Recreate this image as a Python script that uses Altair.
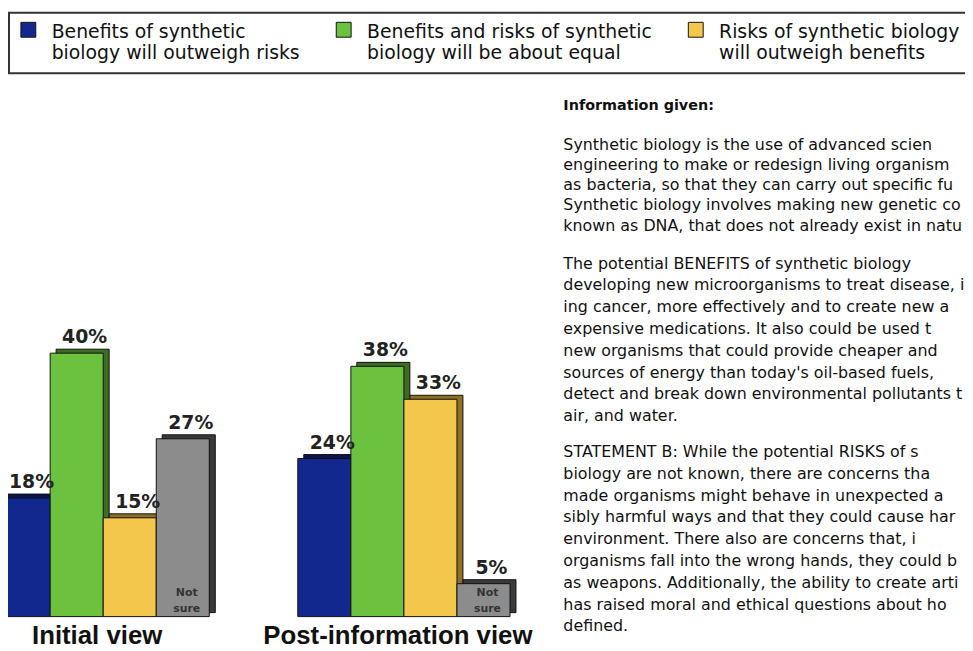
import altair as alt
import pandas as pd

views = ["Initial view", "Post-information view"]
answers = [
    "Benefits of synthetic\nbiology will outweigh risks",
    "Benefits and risks of synthetic\nbiology will be about equal",
    "Risks of synthetic biology\nwill outweigh benefits",
    "Not sure",
]
initial_pct = [18, 40, 15, 27]
post_pct = [24, 38, 33, 5]

bar_colors = ["#13288f", "#6cc23e", "#f3c74b", "#8c8c8c"]
side_colors = ["#0b1650", "#3e6d22", "#8e7024", "#3a3a3a"]

info_title = "Information given:"
para1 = [
    "Synthetic biology is the use of advanced scien",
    "engineering to make or redesign living organism",
    "as bacteria, so that they can carry out specific fu",
    "Synthetic biology involves making new genetic co",
    "known as DNA, that does not already exist in natu",
]
para2 = [
    "The potential BENEFITS of synthetic biology",
    "developing new microorganisms to treat disease, i",
    "ing cancer, more effectively and to create new a",
    "expensive medications. It also could be used t",
    "new organisms that could provide cheaper and",
    "sources of energy than today's oil-based fuels,",
    "detect and break down environmental pollutants t",
    "air, and water.",
]
para3 = [
    "STATEMENT B: While the potential RISKS of s",
    "biology are not known, there are concerns tha",
    "made organisms might behave in unexpected a",
    "sibly harmful ways and that they could cause har",
    "environment. There also are concerns that, i",
    "organisms fall into the wrong hands, they could b",
    "as weapons. Additionally, the ability to create arti",
    "has raised moral and ethical questions about ho",
    "defined.",
]

rows = []
for v, vals in zip(views, [initial_pct, post_pct]):
    for a, p in zip(answers, vals):
        rows.append({"view": v, "answer": a, "pct": p})
df = pd.DataFrame(rows)

x_enc = alt.X(
    "view:N",
    sort=views,
    scale=alt.Scale(domain=views, range=[-11, 506], paddingInner=0.295, paddingOuter=0),
    axis=alt.Axis(
        title=None, domain=False, ticks=False, grid=False, labelAngle=0,
        labelFont="Liberation Sans", labelFontSize=26, labelFontWeight="bold",
        labelColor="#111111", labelPadding=6, labelOffset=-6, labelBaseline="top",
        labelLimit=500,
    ),
)
y_enc = alt.Y("pct:Q", scale=alt.Scale(domain=[0, 92], nice=False), axis=None)

def xoff(rng):
    return alt.XOffset("answer:N", sort=answers,
                       scale=alt.Scale(type="band", domain=answers, range=rng,
                                       paddingInner=0, paddingOuter=0))

MAIN = [0, 214]
SIDE = [6, 220]

base = alt.Chart(df)

sides = base.mark_bar(yOffset=-4, y2Offset=-4, stroke="#111111", strokeWidth=1).encode(
    x=x_enc, xOffset=xoff(SIDE), y=y_enc,
    color=alt.Color("answer:N", scale=alt.Scale(domain=answers, range=side_colors), legend=None),
)

bars = base.mark_bar(stroke="#111111", strokeWidth=1).encode(
    x=x_enc, xOffset=xoff(MAIN), y=y_enc,
    color=alt.Color(
        "answer:N",
        scale=alt.Scale(domain=answers, range=bar_colors),
        legend=alt.Legend(
            orient="none", legendX=1, legendY=2, direction="horizontal",
            values=answers[:3], title=None,
            labelExpr="split(datum.label, '\\n')",
            symbolType="M-1,-1.33H1V0.67H-1Z", symbolSize=225, symbolStrokeColor="#111111",
            symbolStrokeWidth=1, labelFont="DejaVu Sans", labelFontSize=19,
            labelColor="#111111", labelLimit=500, labelOffset=14, labelBaseline="middle",
            columnPadding=34, padding=10, strokeColor="#333333",
            fillColor="white", cornerRadius=0,
        ),
    ),
)

labels = base.mark_text(
    dx=8, dy=-16, font="DejaVu Sans", fontWeight="bold", fontSize=19,
    color="#222222", baseline="middle",
).transform_calculate(lab="datum.pct + '%'").encode(
    x=x_enc, xOffset=xoff(MAIN), y=y_enc, text="lab:N",
)

notsure = base.mark_text(
    dx=4, dy=-24, font="DejaVu Sans", fontWeight="bold", fontSize=11,
    color="#333333", baseline="middle", lineHeight=16,
).transform_filter(alt.datum.answer == "Not sure").encode(
    x=x_enc, xOffset=xoff(MAIN), y=alt.datum(0), text=alt.value(["Not", "sure"]),
)

one = alt.Data(values=[{"k": 1}])

def text_block(lines, ytop, size, lh, weight="normal"):
    return alt.Chart(one).mark_text(
        align="left", baseline="top", font="DejaVu Sans", fontSize=size,
        fontWeight=weight, lineHeight=lh, color="#111111",
    ).encode(x=alt.value(560), y=alt.value(ytop), text=alt.value(lines))

t0 = text_block([info_title], 89, 14.5, 20, "bold")
t1 = text_block(para1, 127, 16, 20.5)
t2 = text_block(para2, 247, 16, 22)
t3 = text_block(para3, 437, 16, 22)

chart = alt.layer(sides, bars, labels, notsure, t0, t1, t2, t3).resolve_scale(
    xOffset="independent", color="independent"
).properties(
    width=965, height=611,
    autosize=alt.AutoSizeParams(type="none"),
    padding={"left": 0, "top": 0, "right": 0, "bottom": 32},
    background="white",
).configure_view(stroke=None).configure_legend(strokeWidth=2)

chart.save("out.html", embed_options={"renderer": "svg", "actions": False})
